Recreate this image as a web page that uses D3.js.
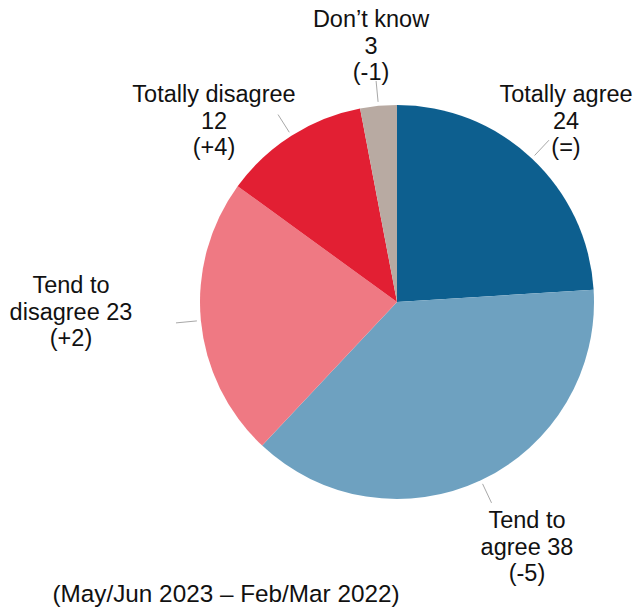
<!DOCTYPE html>
<html>
<head>
<meta charset="utf-8">
<script src="https://cdn.jsdelivr.net/npm/d3@7"></script>
<style>
  html, body { margin: 0; padding: 0; background: #fff; }
  svg text { font-family: "Liberation Sans", Arial, sans-serif; fill: #111; }
</style>
</head>
<body>
<svg id="chart" width="635" height="609"></svg>
<script>
// Survey answers, share of respondents (%) and change versus previous wave
const categories = ["Totally agree", "Tend to agree", "Tend to disagree", "Totally disagree", "Don\u2019t know"];
const values = [24, 38, 23, 12, 3];
const changes = ["(=)", "(-5)", "(+2)", "(+4)", "(-1)"];
const colors = ["#0d5f8f", "#6ea1c0", "#ef7983", "#e21f33", "#b8aaa2"];
// Label text lines per slice (name, value, change)
const labelLines = [
  ["Totally agree", String(values[0]), changes[0]],
  ["Tend to", "agree " + values[1], changes[1]],
  ["Tend to", "disagree " + values[2], changes[2]],
  ["Totally disagree", String(values[3]), changes[3]],
  ["Don\u2019t know", String(values[4]), changes[4]]
];
const footnote = "(May/Jun 2023 \u2013 Feb/Mar 2022)";

// Layout
const cx = 397, cy = 302, radius = 197;
const fontSize = 23.5, lineGap = 26.5;
// Label block centre (first baseline) relative to the pie centre
const labelAnchors = [
  [169, -200],
  [130, 226],
  [-326, -9],
  [-183, -200],
  [-26, -275]
];

const svg = d3.select("#chart");
const g = svg.append("g").attr("transform", `translate(${cx},${cy})`);

const pie = d3.pie().sort(null).value(d => d.value);
const arcs = pie(categories.map((c, i) => ({ cat: c, value: values[i], i })));
const arc = d3.arc().innerRadius(0).outerRadius(radius);

g.selectAll("path.slice")
  .data(arcs)
  .join("path")
  .attr("class", "slice")
  .attr("d", arc)
  .attr("fill", d => colors[d.data.i])
  .attr("stroke", "none");

// Radial leader lines just outside the pie
const inner = d3.arc().innerRadius(radius + 4).outerRadius(radius + 4);
const outer = d3.arc().innerRadius(radius + 25).outerRadius(radius + 25);
g.selectAll("line.leader")
  .data(arcs)
  .join("line")
  .attr("class", "leader")
  .attr("x1", d => inner.centroid(d)[0])
  .attr("y1", d => inner.centroid(d)[1])
  .attr("x2", d => outer.centroid(d)[0])
  .attr("y2", d => outer.centroid(d)[1])
  .attr("stroke", "#a8a8a8")
  .attr("stroke-width", 1);

// Labels
arcs.forEach(d => {
  const i = d.data.i;
  const [lx, ly] = labelAnchors[i];
  const t = g.append("text")
    .attr("text-anchor", "middle")
    .attr("font-size", fontSize);
  labelLines[i].forEach((line, k) => {
    t.append("tspan")
      .attr("x", lx)
      .attr("y", ly + k * lineGap)
      .text(line);
  });
});

// Footnote
svg.append("text")
  .attr("x", 226)
  .attr("y", 602)
  .attr("text-anchor", "middle")
  .attr("font-size", 24.3)
  .text(footnote);
</script>
</body>
</html>
